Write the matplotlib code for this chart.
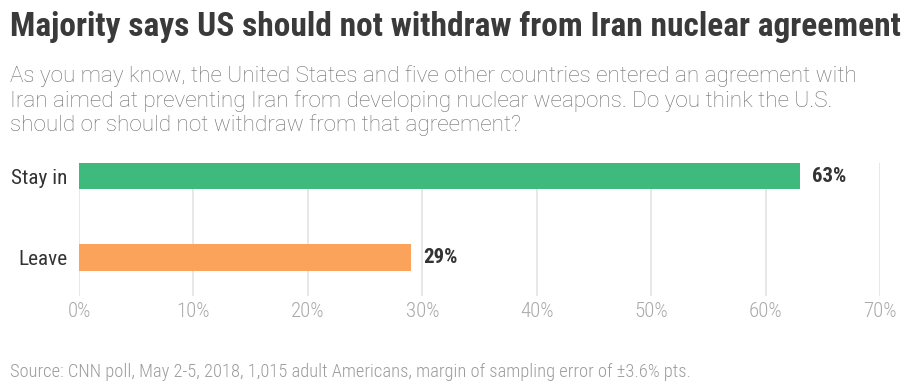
import matplotlib
matplotlib.use("Agg")
import matplotlib.pyplot as plt

# dados
categorias = ["Leave", "Stay in"]
valores = [29, 63]
cores = ["#fba35a", "#3dba7c"]
ticks = [0, 10, 20, 30, 40, 50, 60, 70]

titulo = "Majority says US should not withdraw from Iran nuclear agreement"
subtitulo = ["As you may know, the United States and five other countries entered an agreement with",
             "Iran aimed at preventing Iran from developing nuclear weapons. Do you think the U.S.",
             "should or should not withdraw from that agreement?"]
fonte = "Source: CNN poll, May 2-5, 2018, 1,015 adult Americans, margin of sampling error of \u00b13.6% pts."

# fontes (condensada com reserva)
condensada = ["Roboto Condensed", "DejaVu Sans"]
normal = ["Roboto", "DejaVu Sans"]
plt.rcParams['font.family'] = condensada

W, H = 915, 386
fig = plt.figure(figsize=(W / 100, H / 100), dpi=100)
fig.patch.set_facecolor("white")

ax = fig.add_axes([79 / W, (H - 296) / H, (880 - 79) / W, (296 - 163) / H])
y = list(range(len(categorias)))
ax.barh(y, valores, height=0.32, color=cores, zorder=3)

ax.set_xlim(0, 70)
ax.set_ylim(-0.472, 1.16)
ax.set_xticks(ticks)
ax.set_xticklabels([f"{t}%" for t in ticks], fontsize=15, color="#a9a9a9", fontweight="light")
ax.tick_params(axis="x", length=0, pad=4)
ax.set_yticks(y)
ax.set_yticklabels(categorias, fontsize=15.3, color="#333333")
ax.tick_params(axis="y", length=0, pad=8.5)
ax.grid(axis="x", color="#e3e3e3", linewidth=1.2, zorder=0)
for lado in ax.spines.values():
    lado.set_visible(False)

# rótulos de valor
for yi, v in zip(y, valores):
    ax.text(v + 1.1, yi, f"{v}%", va="center", ha="left", fontsize=15,
            fontweight="bold", color="#333333")

# título, subtítulo e fonte
fig.text(10 / W, 1 - 36 / H, titulo, fontsize=24, fontweight="bold",
         color="#3a3a3a", va="baseline", ha="left")
for i, linha in enumerate(subtitulo):
    fig.text(10 / W, 1 - (82 + 24.5 * i) / H, linha, fontsize=16.2, color="#707070",
             va="baseline", ha="left", family=normal, fontweight="light")
fig.text(10 / W, 1 - 377 / H, fonte, fontsize=13.3, color="#9c9c9c",
         va="baseline", ha="left", fontweight="light")

fig.savefig("out.png", dpi=100, facecolor="white")
